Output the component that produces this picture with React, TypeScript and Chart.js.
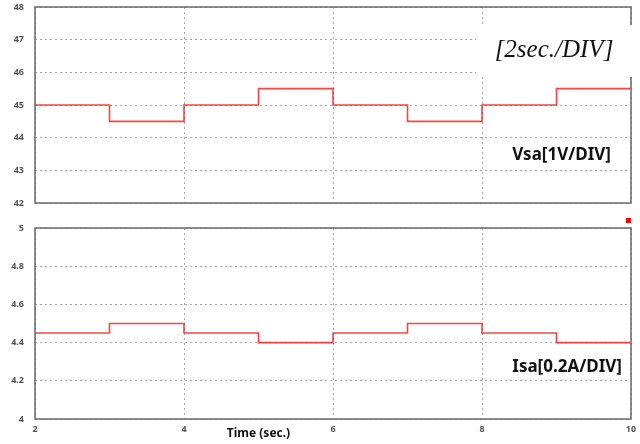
import React, { useEffect, useRef } from "react";
import { Chart, registerables } from "chart.js";

Chart.register(...registerables);

// Time axis (seconds) and the two measured step waveforms
const timeSec = [2, 3, 4, 5, 6, 7, 8, 9, 10];
const vsaVolts = [45, 44.5, 45, 45.5, 45, 44.5, 45, 45.5, 45.5];
const isaAmps = [4.45, 4.5, 4.45, 4.4, 4.45, 4.5, 4.45, 4.4, 4.4];

const xTicks = [2, 4, 6, 8, 10];
const vsaTicks = [42, 43, 44, 45, 46, 47, 48];
const isaTicks = [4, 4.2, 4.4, 4.6, 4.8, 5];

const LINE = "rgba(255, 20, 20, 0.8)";
const GRID = "#a8a8a8";
const TICK_FONT = { family: "Noto Sans", size: 9, weight: "bold" as const };
const TICK_COLOR = "#555";

// Frame around the plot area plus channel label and annotations
const framePlugin = {
  id: "frame",
  afterDraw(chart: any, _args: any, opts: any) {
    const { ctx, chartArea: a } = chart;
    ctx.save();
    ctx.strokeStyle = "#707070";
    ctx.lineWidth = 1.6;
    ctx.strokeRect(a.left, a.top, a.right - a.left, a.bottom - a.top);
    if (opts.label) {
      ctx.fillStyle = "#111";
      ctx.font = "bold 17px 'Noto Sans', sans-serif";
      ctx.textAlign = "right";
      ctx.textBaseline = "middle";
      ctx.fillText(opts.label, a.right - opts.labelRight, a.bottom - opts.labelOffset);
    }
    if (opts.timeBase) {
      const bw = 160;
      const bh = 52;
      const bx = a.right - 155;
      const by = a.top + 18;
      ctx.fillStyle = "#fff";
      ctx.fillRect(bx, by, bw, bh);
      ctx.fillStyle = "#111";
      ctx.font = "italic 25px 'Liberation Serif', serif";
      ctx.textAlign = "center";
      ctx.textBaseline = "middle";
      ctx.fillText(opts.timeBase, bx + 78, by + 25);
    }
    if (opts.marker) {
      ctx.fillStyle = "#ff0000";
      ctx.fillRect(a.right - 5, a.top - 10, 5, 5);
    }
    if (opts.xTitle) {
      const x = chart.scales.x.getPixelForValue(5);
      ctx.fillStyle = "#111";
      ctx.font = "bold 12px 'Noto Sans', sans-serif";
      ctx.textAlign = "center";
      ctx.textBaseline = "middle";
      ctx.fillText(opts.xTitle, x, a.bottom + 15);
    }
    ctx.restore();
  },
};

function makeConfig(
  values: number[],
  yMin: number,
  yMax: number,
  yTicks: number[],
  showX: boolean,
  pad: { top: number; bottom: number },
  frame: any
): any {
  return {
    type: "line",
    data: {
      datasets: [
        {
          data: timeSec.map((t, i) => ({ x: t, y: values[i] })),
          borderColor: LINE,
          borderWidth: 1.6,
          pointRadius: 0,
          stepped: "before",
          fill: false,
        },
      ],
    },
    options: {
      animation: false,
      responsive: false,
      layout: { padding: { left: 0, right: 9, top: pad.top, bottom: pad.bottom } },
      plugins: { legend: { display: false }, tooltip: { enabled: false }, frame },
      scales: {
        x: {
          type: "linear",
          min: 2,
          max: 10,
          afterBuildTicks: (s: any) => {
            s.ticks = xTicks.map((v) => ({ value: v }));
          },
          afterFit: (s: any) => {
            s.height = showX ? 25 : 0;
            s.paddingLeft = 0;
            s.paddingRight = 0;
          },
          border: { display: false, dash: [2, 3] },
          grid: { color: GRID, lineWidth: 1, drawTicks: false },
          ticks: {
            display: showX,
            padding: 5,
            font: TICK_FONT,
            color: TICK_COLOR,
            maxRotation: 0,
          },
        },
        y: {
          min: yMin,
          max: yMax,
          afterBuildTicks: (s: any) => {
            s.ticks = yTicks.map((v) => ({ value: v }));
          },
          afterFit: (s: any) => {
            s.width = 35;
            s.paddingTop = 0;
            s.paddingBottom = 0;
          },
          border: { display: false, dash: [2, 3] },
          grid: { color: GRID, lineWidth: 1, drawTicks: false },
          ticks: {
            padding: 11,
            font: TICK_FONT,
            color: TICK_COLOR,
            callback: (v: any) => String(Math.round(Number(v) * 10) / 10),
          },
        },
      },
    },
    plugins: [framePlugin],
  };
}

function Panel(props: { top: number; height: number; config: any }) {
  const ref = useRef<HTMLCanvasElement | null>(null);
  useEffect(() => {
    if (!ref.current) return;
    const chart = new Chart(ref.current, props.config);
    return () => chart.destroy();
  }, []);
  return (
    <canvas
      ref={ref}
      width={640}
      height={props.height}
      style={{ position: "absolute", left: 0, top: props.top, width: 640, height: props.height }}
    />
  );
}

export default function App() {
  const vsaCfg = makeConfig(vsaVolts, 42, 48, vsaTicks, false, { top: 7, bottom: 7 }, {
    label: "Vsa[1V/DIV]",
    labelOffset: 48,
    labelRight: 20,
    timeBase: "[2sec./DIV]",
  });
  const isaCfg = makeConfig(isaAmps, 4, 5, isaTicks, true, { top: 18, bottom: 0 }, {
    label: "Isa[0.2A/DIV]",
    labelOffset: 52,
    labelRight: 9,
    marker: true,
    xTitle: "Time (sec.)",
  });
  return (
    <div style={{ position: "fixed", left: 0, top: 0, width: 640, height: 444, background: "#fff" }}>
      <Panel top={0} height={210} config={vsaCfg} />
      <Panel top={210} height={234} config={isaCfg} />
    </div>
  );
}
